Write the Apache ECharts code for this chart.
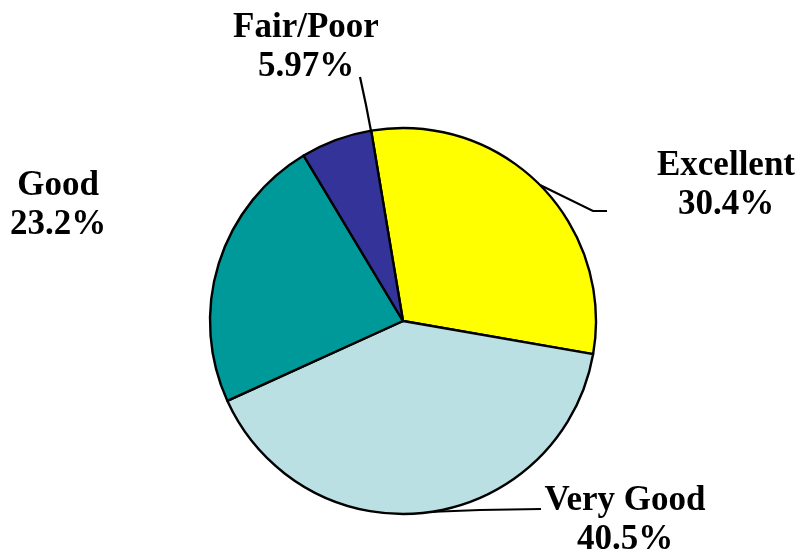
<!DOCTYPE html>
<html>
<head>
<meta charset="utf-8">
<script src="https://cdn.jsdelivr.net/npm/echarts@6/dist/echarts.min.js"></script>
<style>
html,body{margin:0;padding:0;background:#fff;}
#main{width:798px;height:550px;}
</style>
</head>
<body>
<div id="main"></div>
<script>
var categories = ['Excellent', 'Very Good', 'Good', 'Fair/Poor'];
var values = [30.4, 40.5, 23.2, 5.97];
var valueLabels = ['30.4%', '40.5%', '23.2%', '5.97%'];
var colors = ['#FFFF00', '#BBE0E3', '#009999', '#333399'];

// label placement (layout only)
var labelPos = [[726, 185], [625, 520], [58, 205], [306, 47]];
var labelLines = [
  [[540, 185], [593, 211], [607, 211]],
  [[428, 512], [480, 510], [541, 509]],
  null,
  [[371, 131], [366, 105], [360, 77]]
];

var chart = echarts.init(document.getElementById('main'), null, {renderer: 'canvas'});
var data = categories.map(function (c, i) {
  return {
    name: c,
    value: values[i],
    itemStyle: {color: colors[i]},
    labelLine: {show: labelLines[i] !== null, lineStyle: {color: '#000', width: 2.2}}
  };
});
chart.setOption({
  animation: false,
  backgroundColor: '#ffffff',
  series: [{
    type: 'pie',
    center: [403, 321],
    radius: [0, 193],
    startAngle: 99.5,
    clockwise: true,
    data: data,
    itemStyle: {borderColor: '#000', borderWidth: 2.4},
    emphasis: {disabled: true},
    label: {
      show: true,
      formatter: function (p) { return p.name + '\n' + valueLabels[p.dataIndex]; },
      fontFamily: 'Liberation Serif',
      fontWeight: 'bold',
      fontSize: 35,
      lineHeight: 39,
      color: '#000',
      align: 'center'
    },
    labelLine: {show: true, lineStyle: {color: '#000', width: 2.2}, length: 10, length2: 10},
    labelLayout: function (params) {
      var i = params.dataIndex;
      var r = {
        x: labelPos[i][0],
        y: labelPos[i][1],
        align: 'center',
        verticalAlign: 'middle'
      };
      if (labelLines[i]) r.labelLinePoints = labelLines[i];
      return r;
    }
  }]
});
</script>
</body>
</html>
